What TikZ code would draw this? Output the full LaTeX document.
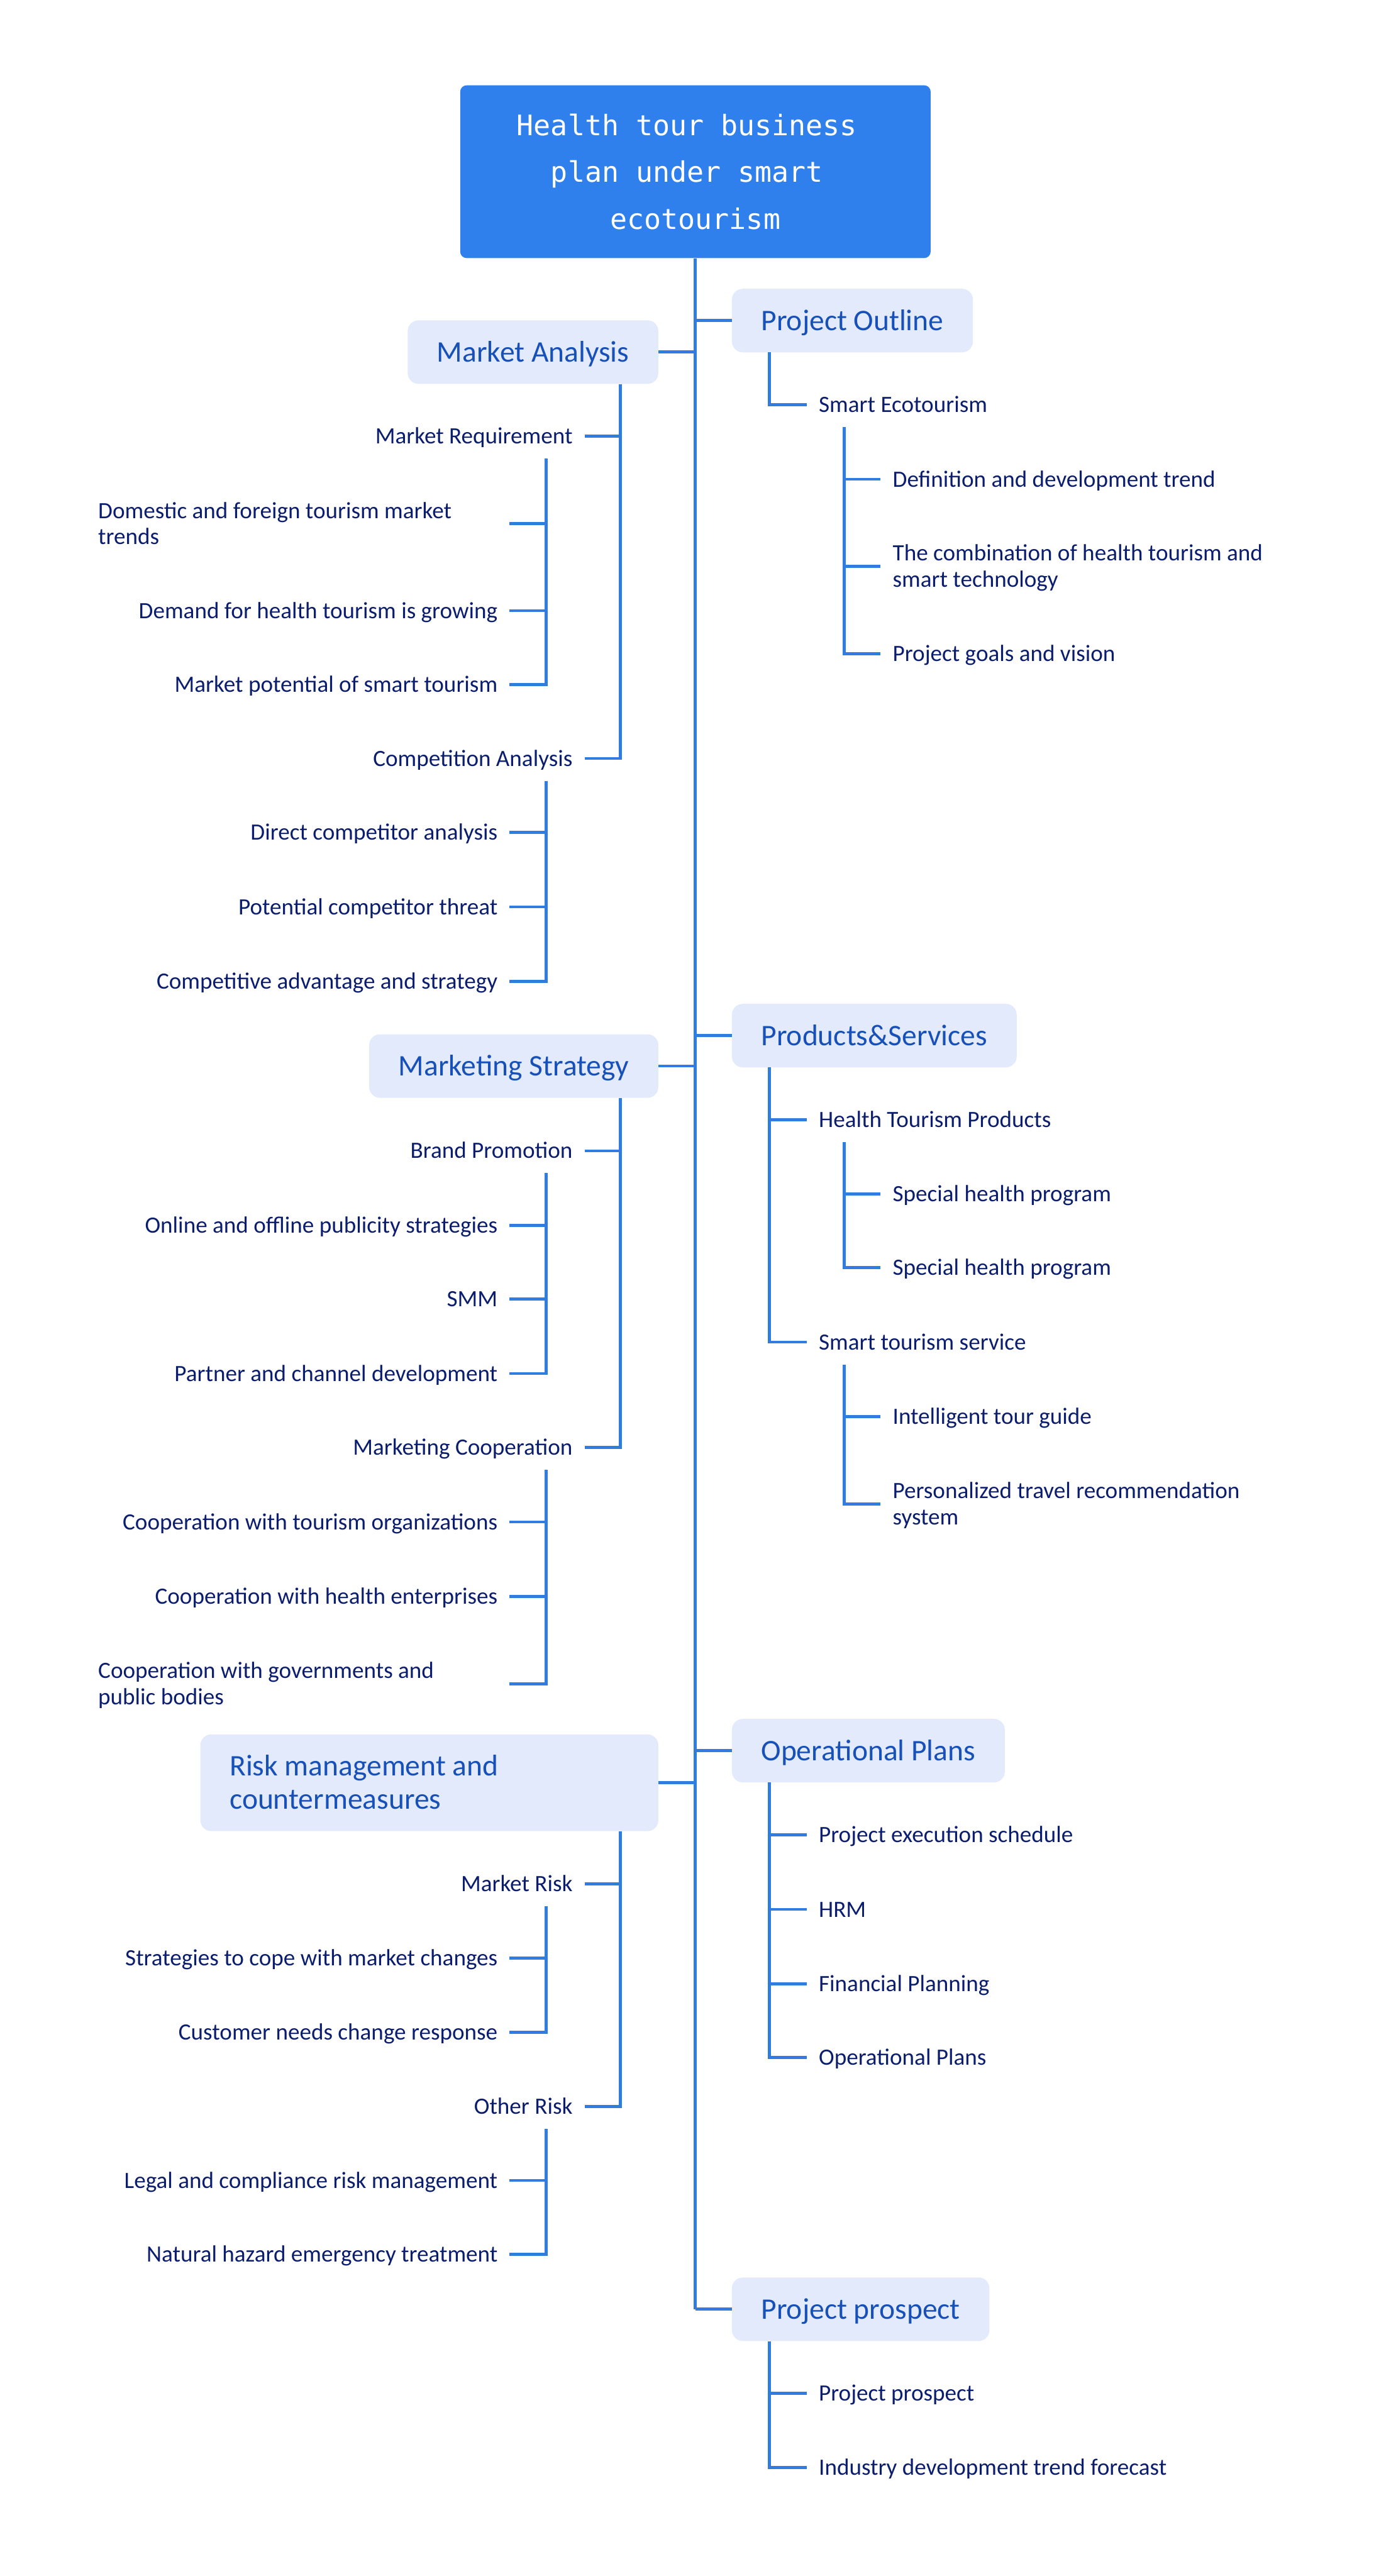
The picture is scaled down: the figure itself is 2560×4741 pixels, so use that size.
\documentclass[tikz,border=0pt]{standalone}
\usepackage{fontspec}
\setmainfont{Carlito}
\newfontfamily\titlefont{DejaVu Sans Mono}
\usepackage{tikz}

\definecolor{linkblue}{HTML}{2F7DE1}
\definecolor{rootfill}{HTML}{2F80ED}
\definecolor{topicfill}{HTML}{E2EAFB}
\definecolor{topictext}{HTML}{1750B8}
\definecolor{leaftext}{HTML}{0B1D6E}

\newcommand\istrut{\rule[-10pt]{0pt}{48pt}}
\newcommand\tstrut{\rule[-13pt]{0pt}{62pt}}

\tikzset{
  conn/.style={linkblue, line width=5.5pt},
  roottopic/.style={fill=rootfill, text=white, rounded corners=12pt,
    minimum width=866pt, minimum height=318pt, align=center,
    font=\titlefont\fontsize{52}{86}\selectfont},
  maintopic/.style={fill=topicfill, text=topictext, rounded corners=20pt,
    inner xsep=54pt, inner ysep=27pt, minimum height=117pt,
    font=\fontsize{55}{62}\selectfont},
  subitem/.style={text=leaftext, inner xsep=22pt, inner ysep=17pt,
    font=\fontsize{43}{48}\selectfont},
  subwrap/.style={subitem, text width=735pt, align=flush left}
}

\begin{document}
\begin{tikzpicture}[x=1pt, y=-1pt]

    \useasboundingbox (0,0) rectangle (2560,4741);
    \def\LA{938}  \def\LB{1076} % left leaf / sub ends
    \def\RA{1485} \def\RB{1621} % right sub / leaf starts
    \coordinate (lx2) at (1142,0);
    \coordinate (lx3) at (1005,0);
    \coordinate (rx2) at (1416,0);
    \coordinate (rx3) at (1554,0);

    \node[roottopic] (root) at (1280,316) {Health tour business\hphantom{x}\\plan under smart\hphantom{x}\\ecotourism};

    % right side
    \node[maintopic, anchor=west] (po) at (1347,590) {\tstrut Project Outline};
    \node[subitem, anchor=west] (se) at (\RA,745) {\istrut Smart Ecotourism};
    \node[subitem, anchor=west] (def) at (\RB,882) {\istrut Definition and development trend};
    \node[subwrap, anchor=west] (comb) at (\RB,1042) {\istrut The combination of health tourism and\\smart technology\istrut};
    \node[subitem, anchor=west] (goal) at (\RB,1203) {\istrut Project goals and vision};

    \node[maintopic, anchor=west] (ps) at (1347,1906) {\tstrut Products\&Services};
    \node[subitem, anchor=west] (htp) at (\RA,2061) {\istrut Health Tourism Products};
    \node[subitem, anchor=west] (sp1) at (\RB,2197) {\istrut Special health program};
    \node[subitem, anchor=west] (sp2) at (\RB,2333) {\istrut Special health program};
    \node[subitem, anchor=west] (sts) at (\RA,2470) {\istrut Smart tourism service};
    \node[subitem, anchor=west] (itg) at (\RB,2607) {\istrut Intelligent tour guide};
    \node[subwrap, anchor=west] (ptr) at (\RB,2768) {\istrut Personalized travel recommendation\\system\istrut};

    \node[maintopic, anchor=west] (op) at (1347,3222) {\tstrut Operational Plans};
    \node[subitem, anchor=west] (pes) at (\RA,3377) {\istrut Project execution schedule};
    \node[subitem, anchor=west] (hrm) at (\RA,3514) {\istrut HRM};
    \node[subitem, anchor=west] (fp) at (\RA,3651) {\istrut Financial Planning};
    \node[subitem, anchor=west] (opl) at (\RA,3787) {\istrut Operational Plans};

    \node[maintopic, anchor=west] (pp) at (1347,4250) {\tstrut Project prospect};
    \node[subitem, anchor=west] (pp2) at (\RA,4405) {\istrut Project prospect};
    \node[subitem, anchor=west] (idt) at (\RA,4541) {\istrut Industry development trend forecast};

    % left side
    \node[maintopic, anchor=east] (ma) at (1212,648) {\tstrut Market Analysis};
    \node[subitem, anchor=east] (mr) at (\LB,803) {\istrut Market Requirement};
    \node[subwrap, anchor=east] (dom) at (\LA,964) {\istrut Domestic and foreign tourism market\\trends\istrut};
    \node[subitem, anchor=east] (dem) at (\LA,1124) {\istrut Demand for health tourism is growing};
    \node[subitem, anchor=east] (mp) at (\LA,1260) {\istrut Market potential of smart tourism};
    \node[subitem, anchor=east] (ca) at (\LB,1396) {\istrut Competition Analysis};
    \node[subitem, anchor=east] (dc) at (\LA,1532) {\istrut Direct competitor analysis};
    \node[subitem, anchor=east] (pc) at (\LA,1669) {\istrut Potential competitor threat};
    \node[subitem, anchor=east] (cas) at (\LA,1806) {\istrut Competitive advantage and strategy};

    \node[maintopic, anchor=east] (ms) at (1212,1962) {\tstrut Marketing Strategy};
    \node[subitem, anchor=east] (bp) at (\LB,2118) {\istrut Brand Promotion};
    \node[subitem, anchor=east] (oo) at (\LA,2255) {\istrut Online and offline publicity strategies};
    \node[subitem, anchor=east] (smm) at (\LA,2391) {\istrut SMM};
    \node[subitem, anchor=east] (pcd) at (\LA,2528) {\istrut Partner and channel development};
    \node[subitem, anchor=east] (mc) at (\LB,2664) {\istrut Marketing Cooperation};
    \node[subitem, anchor=east] (cto) at (\LA,2801) {\istrut Cooperation with tourism organizations};
    \node[subitem, anchor=east] (che) at (\LA,2938) {\istrut Cooperation with health enterprises};
    \node[subwrap, anchor=east] (cgp) at (\LA,3099) {\istrut Cooperation with governments and\\public bodies\istrut};

    \node[maintopic, anchor=east, text width=735pt, align=flush left] (rm) at (1212,3281) {\tstrut Risk management and\\countermeasures\tstrut};
    \node[subitem, anchor=east] (mkr) at (\LB,3467) {\istrut Market Risk};
    \node[subitem, anchor=east] (scm) at (\LA,3604) {\istrut Strategies to cope with market changes};
    \node[subitem, anchor=east] (cnc) at (\LA,3740) {\istrut Customer needs change response};
    \node[subitem, anchor=east] (orisk) at (\LB,3877) {\istrut Other Risk};
    \node[subitem, anchor=east] (lcr) at (\LA,4013) {\istrut Legal and compliance risk management};
    \node[subitem, anchor=east] (nhe) at (\LA,4149) {\istrut Natural hazard emergency treatment};

    % connectors
    \draw[conn] (root.south) -- (root.south |- pp.west);
    \foreach \n in {po,ps,op,pp} \draw[conn] (root.south |- \n.west) -- (\n.west);
    \foreach \n in {ma,ms,rm} \draw[conn] (root.south |- \n.east) -- (\n.east);

    \foreach \p/\c in {ma/mr,ma/ca,ms/bp,ms/mc,rm/mkr,rm/orisk}
      \draw[conn] (\p.south -| lx2) |- (\c.east);
    \foreach \p/\c in {mr/dom,mr/dem,mr/mp,ca/dc,ca/pc,ca/cas,bp/oo,bp/smm,bp/pcd,
                       mc/cto,mc/che,mc/cgp,mkr/scm,mkr/cnc,orisk/lcr,orisk/nhe}
      \draw[conn] (\p.south -| lx3) |- (\c.east);
    \foreach \p/\c in {po/se,ps/htp,ps/sts,op/pes,op/hrm,op/fp,op/opl,pp/pp2,pp/idt}
      \draw[conn] (\p.south -| rx2) |- (\c.west);
    \foreach \p/\c in {se/def,se/comb,se/goal,htp/sp1,htp/sp2,sts/itg,sts/ptr}
      \draw[conn] (\p.south -| rx3) |- (\c.west);

\end{tikzpicture}
\end{document}
